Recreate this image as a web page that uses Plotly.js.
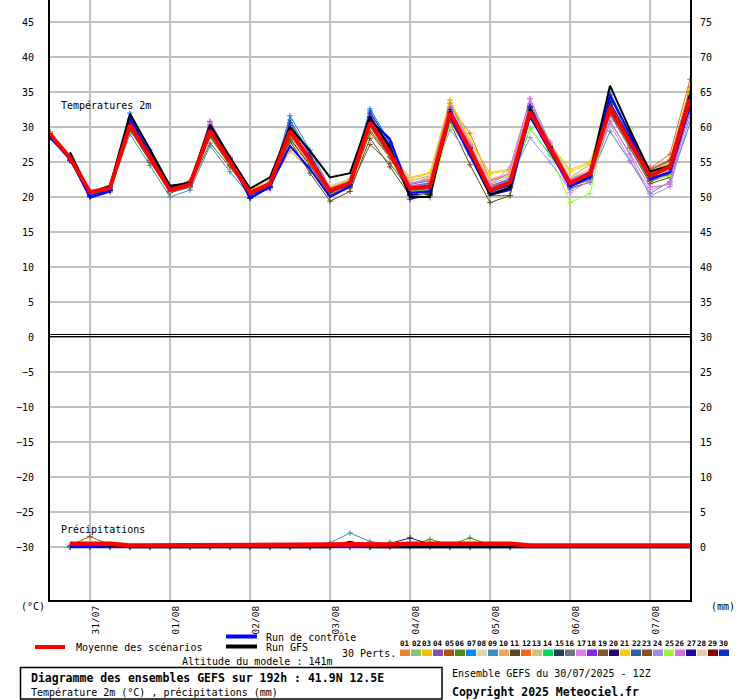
<!DOCTYPE html>
<html><head><meta charset="utf-8">
<script src="https://cdn.plot.ly/plotly-3.0.1.min.js"></script>
<style>html,body{margin:0;padding:0;background:#fff}#chart{width:740px;height:700px}</style>
</head><body><div id="chart"></div>
<script>
// ---- time axis (hours after 30/07/2025 12Z) ----
const hours = [0,6,12,18,24,30,36,42,48,54,60,66,72,78,84,90,96,102,108,114,120,126,132,138,144,150,156,162,168,174,180,186,192];
const dateTicks = [12,36,60,84,108,132,156,180];
const dateLabels = ['31/07','01/08','02/08','03/08','04/08','05/08','06/08','07/08'];
const tempTicks = [-30,-25,-20,-15,-10,-5,0,5,10,15,20,25,30,35,40,45];
const mmTicks = [0,5,10,15,20,25,30,35,40,45,50,55,60,65,70,75];

// ---- 2m temperature (°C) ----
const tMean = [29.0,25.6,20.7,21.3,30.3,25.6,21.0,21.8,29.5,25.0,20.6,21.9,29.4,25.3,20.9,22.0,30.6,26.2,21.2,21.5,32.0,26.8,21.0,22.1,32.2,27.0,22.0,23.3,32.7,27.8,23.0,24.3,34.0];
const tControl = [28.5,25.5,19.9,20.8,31.5,26.0,21.3,22.2,29.8,25.4,19.8,21.5,27.3,24.0,20.0,21.5,31.0,28.3,20.6,20.8,31.5,26.0,20.3,21.0,31.5,26.5,21.5,22.8,34.5,29.0,22.5,23.5,33.0];
const tGfs = [null,26.4,20.6,21.6,31.9,26.8,21.6,22.0,30.3,25.7,21.2,22.8,30.0,26.6,22.8,23.4,31.5,27.0,20.0,20.0,32.3,26.5,20.3,21.3,32.6,27.3,22.0,23.5,35.9,29.6,23.6,24.5,34.6];

const p01 = [29.1,25.7,20.8,21.2,30.6,25.8,21.1,21.9,29.3,24.8,20.5,21.7,26.6,23.9,20.6,21.8,30.2,26.0,21.4,21.7,32.4,27.0,21.3,22.4,32.0,26.8,21.8,23.0,32.3,27.5,22.8,24.0,34.5];
const p02 = [28.8,25.5,20.6,21.4,30.0,25.4,20.8,21.6,29.0,24.7,20.4,21.8,29.8,25.6,21.2,22.2,29.8,25.7,21.0,21.2,31.2,26.4,20.6,21.7,31.6,26.5,21.4,22.6,32.0,27.3,22.3,23.6,33.2];
const p03 = [29.2,25.8,20.9,21.5,30.8,26.0,21.3,22.3,29.6,25.1,20.9,22.0,29.0,25.2,21.3,22.5,30.3,26.3,22.8,23.5,33.8,27.8,23.5,24.0,32.6,27.6,23.9,25.0,33.0,28.2,23.4,25.0,35.2];
const p04 = [29.0,25.6,20.6,21.5,30.4,25.7,21.0,21.7,30.2,25.4,20.7,21.8,29.6,25.4,21.0,22.2,31.2,26.8,21.6,22.0,32.2,27.1,21.4,22.6,32.8,27.2,22.2,23.6,32.4,27.6,22.9,24.2,33.6];
const p05 = [29.3,25.9,20.9,20.7,30.1,25.5,20.9,21.5,29.2,24.9,20.6,22.1,28.8,25.0,20.7,21.9,30.8,26.5,21.1,21.4,31.8,26.9,21.2,22.3,32.4,27.3,22.1,23.2,33.2,28.4,24.0,25.3,35.6];
const p06 = [28.9,25.4,20.5,21.1,30.2,25.5,20.9,21.8,29.4,24.9,20.5,21.6,29.2,25.0,20.4,21.5,29.5,25.8,20.2,19.9,31.0,26.2,20.2,20.2,31.8,27.0,21.6,22.4,32.6,28.3,22.2,23.4,33.0];
const p07 = [28.6,25.3,20.3,21.0,32.0,26.8,21.4,22.0,29.9,25.5,20.3,21.6,31.6,26.7,21.3,22.6,32.6,27.8,21.8,22.3,32.8,27.2,21.6,22.6,33.3,27.8,22.6,23.8,35.0,29.0,23.2,24.6,34.4];
const p08 = [29.0,25.6,20.9,21.6,30.0,25.5,21.2,22.0,29.0,24.7,20.8,22.2,28.5,24.8,21.5,22.5,29.8,26.0,22.9,22.9,32.6,27.4,22.2,23.1,32.0,27.1,22.6,23.8,32.2,27.4,22.8,23.9,34.2];
const p09 = [28.4,25.2,20.4,20.9,29.0,24.5,20.0,21.0,27.3,23.6,20.2,21.4,28.2,24.6,20.6,21.6,30.0,26.0,21.5,21.8,31.4,26.4,20.8,21.8,31.8,26.6,21.6,22.6,29.4,25.1,20.5,22.2,30.5];
const p10 = [29.2,25.8,20.8,20.9,30.5,25.8,21.1,22.1,29.4,25.0,20.7,22.0,27.8,24.4,21.0,22.3,30.2,26.4,22.3,23.0,33.4,27.6,22.4,23.0,32.5,27.4,22.8,24.6,32.9,28.0,23.6,25.0,34.8];
const p11 = [28.7,25.3,20.4,21.0,29.6,25.0,20.6,21.4,28.6,24.5,20.3,21.5,28.0,23.4,19.4,20.8,28.4,24.3,20.2,20.4,30.6,24.6,19.2,20.2,31.5,26.5,21.3,22.1,31.8,27.0,21.9,22.8,32.2];
const p12 = [29.3,25.9,20.9,21.3,30.7,26.0,21.3,22.0,29.6,25.2,20.9,22.1,29.9,25.8,21.2,22.3,31.0,27.0,22.0,22.4,32.9,29.1,22.4,23.3,33.0,27.8,22.4,23.6,33.4,28.6,24.1,26.1,36.8];
const p13 = [29.0,25.6,20.7,21.6,30.1,25.6,21.2,22.2,29.1,24.9,21.0,22.3,28.9,25.2,21.4,22.6,30.4,26.1,22.0,22.5,32.4,27.2,21.8,22.9,31.9,26.8,22.4,23.7,31.8,27.2,22.6,23.4,33.4];
const p14 = [28.8,25.5,20.6,21.2,30.5,25.7,21.0,21.6,29.5,24.9,20.4,21.7,29.6,25.4,20.7,21.9,30.0,26.0,20.8,21.0,31.6,26.6,20.9,21.6,29.8,26.0,21.8,23.0,32.2,27.6,22.4,23.8,33.8];
const p15 = [28.7,25.4,20.2,21.0,30.0,25.4,20.8,21.7,29.7,25.2,20.3,21.5,29.3,25.5,20.6,21.7,31.0,26.8,20.4,20.7,32.4,27.1,21.0,21.9,32.6,27.2,21.9,23.0,33.0,28.0,22.8,23.5,33.2];
const p16 = [28.9,25.5,20.5,21.3,30.2,25.6,21.2,22.0,29.0,24.8,20.6,21.9,29.0,25.0,20.8,21.9,30.6,26.1,21.3,21.6,32.0,26.8,21.1,22.0,32.0,26.9,21.6,22.7,31.8,27.0,22.2,23.2,32.4];
const p17 = [29.1,25.7,20.8,21.5,30.4,25.8,21.0,21.9,30.4,25.4,20.9,21.0,29.6,25.4,20.9,21.9,31.2,26.6,21.8,22.8,32.8,27.4,21.6,24.3,34.0,27.0,20.6,22.4,30.5,25.2,21.0,22.0,32.6];
const p18 = [29.1,25.8,20.9,21.4,30.9,26.0,21.1,21.8,30.8,25.7,20.8,22.0,30.2,25.6,21.1,22.0,31.5,27.0,21.4,21.9,32.5,27.2,21.3,22.5,33.0,27.4,22.3,23.4,33.1,28.1,23.2,24.4,34.0];
const p19 = [28.8,25.4,20.5,21.1,29.8,25.2,20.8,21.5,27.7,24.3,20.4,21.6,28.4,24.5,20.2,21.3,27.5,24.8,20.9,21.2,31.0,26.0,20.6,21.4,31.3,26.7,21.6,22.8,32.0,27.4,22.4,23.2,33.0];
const p20 = [28.6,25.3,20.1,21.0,30.2,25.6,20.9,21.8,29.4,25.1,19.9,21.4,29.2,25.4,20.7,21.7,30.8,26.5,20.3,20.5,32.0,26.7,20.8,21.6,32.8,27.2,21.8,23.1,33.5,28.2,23.1,24.4,34.4];
const p21 = [29.2,25.8,20.9,21.6,30.6,25.9,21.3,22.4,29.6,25.2,21.0,22.2,29.0,25.4,21.4,22.5,30.4,26.6,22.6,23.4,33.9,28.2,23.3,23.8,32.7,27.5,23.6,24.8,32.9,28.0,23.5,24.8,35.4];
const p22 = [28.9,25.6,20.6,21.2,31.2,26.4,21.3,22.0,29.8,25.3,20.5,21.7,31.0,26.2,21.0,22.1,32.3,27.4,21.5,21.7,32.2,26.8,21.0,22.0,32.4,27.0,21.8,23.0,34.2,28.6,23.3,24.3,33.6];
const p23 = [29.0,25.6,20.7,21.0,29.7,25.2,20.7,21.5,28.8,24.6,20.5,21.6,28.3,24.6,20.3,21.4,29.2,25.6,21.0,21.3,31.7,26.9,21.0,22.1,31.9,27.0,22.2,23.4,33.3,28.3,23.8,25.2,35.0];
const p24 = [29.0,25.7,20.8,21.5,30.2,25.6,21.0,21.7,29.6,25.2,20.7,21.8,29.5,25.5,21.2,22.1,30.4,26.0,21.5,21.8,29.6,26.0,21.4,22.4,28.5,25.0,21.0,22.2,31.0,26.0,20.1,21.5,31.5];
const p25 = [28.8,25.4,20.5,21.2,30.3,25.6,20.9,21.9,29.3,24.8,20.4,21.8,29.1,25.0,20.5,21.9,30.0,26.2,21.0,20.0,30.3,26.8,21.2,22.3,29.8,26.2,19.2,20.5,32.4,29.8,22.6,23.0,33.6];
const p26 = [29.1,25.7,20.8,21.4,30.5,25.9,21.1,21.9,30.6,25.6,20.8,21.6,29.8,25.6,21.2,22.2,31.8,27.2,21.9,22.6,33.4,27.5,21.8,23.6,34.1,27.8,22.6,23.6,30.8,26.2,21.4,21.8,32.8];
const p27 = [28.5,25.2,20.0,20.9,30.4,25.8,21.1,22.0,29.5,24.9,19.8,21.3,29.4,25.2,20.6,21.8,31.4,27.4,19.7,20.2,32.3,27.0,20.5,21.4,32.7,27.2,21.6,23.0,33.6,28.4,22.6,23.7,33.9];
const p28 = [29.1,25.6,20.9,21.6,30.0,25.4,21.0,22.0,29.2,24.9,21.1,22.3,29.1,25.3,21.6,22.6,30.0,26.0,22.5,22.7,32.4,27.0,22.6,23.4,32.2,27.0,22.8,24.0,32.5,27.8,23.0,23.8,33.8];
const p29 = [29.0,25.7,20.7,21.3,30.6,25.8,21.2,22.0,29.5,25.1,20.8,22.0,29.6,25.6,21.1,22.1,30.6,26.4,21.2,21.5,32.1,26.9,21.1,22.2,32.3,27.1,22.1,23.3,32.8,27.9,23.1,24.3,34.2];
const p30 = [28.6,25.3,20.2,21.0,31.0,26.2,21.3,22.1,29.6,25.3,20.2,21.5,30.6,26.0,20.8,21.8,32.0,27.8,20.6,20.9,32.5,27.0,20.8,21.7,32.9,27.2,21.4,22.8,34.6,28.9,23.2,24.1,33.4];

const pertTemps = [p01,p02,p03,p04,p05,p06,p07,p08,p09,p10,p11,p12,p13,p14,p15,p16,p17,p18,p19,p20,p21,p22,p23,p24,p25,p26,p27,p28,p29,p30];
const pertNames = ['01','02','03','04','05','06','07','08','09','10','11','12','13','14','15','16','17','18','19','20','21','22','23','24','25','26','27','28','29','30'];
const pertColors = ['#e8832f','#86c46e','#f0c300','#8b4ea8','#b0520c','#4d8a0e','#0a84ff','#e6d5b0','#3a8fbf','#e6a85a','#5e4a1c','#f5651c','#d4bf7c','#0ad85a','#234257','#6b7580','#e27cf3','#8a22f0','#7b5a2c','#2a0a70','#f2d200','#2a66a6','#8a5420','#a08cf0','#9ef53c','#d474d4','#1e0a9e','#e3ccaa','#8a0008','#0a32c8'];

// ---- precipitation (mm, 6h) ----
const rMean = [null,0.45,0.5,0.45,0.2,0.2,0.2,0.2,0.2,0.2,0.35,0.35,0.35,0.35,0.35,0.4,0.35,0.35,0.47,0.5,0.47,0.5,0.47,0.47,0.2,0.2,0.2,0.2,0.2,0.2,0.2,0.2,0.2];
const rControl = [null,0,0,0,0,0,0,0,0,0,0,0,0,0,0,0,0,0,0,0,0,0,0,0,0,0,0,0,0,0,0,0,0];
const rGfs = [null,0.3,0.4,0.2,0,0,0,0,0,0,0,0,0,0,0,0.7,0,0,0,0,0,0,0,0,0,0,0,0,0,0,0,0,0];
const rP05 = [null,0.2,1.5,0.3,0,0,0,0,0,0,0,0,0,0,0,0,0,0,0,0,0,0,0,0,null,null,null,null,null,null,null,null,null];
const rP09 = [null,0,0,0,0,0,0,0,0,0,0,0,0,0.1,0.6,2.0,0.8,0.3,0,0,0,0,0,0,null,null,null,null,null,null,null,null,null];
const rP06 = [null,0,0,0,0,0,0,0,0,0,0,0,0,0,0,0,0,0,0.2,1.1,0.3,1.3,0.3,0,null,null,null,null,null,null,null,null,null];
const rP20 = [null,0,0,0,0,0,0,0,0,0,0,0,0,0,0,0,0,0.5,1.3,0.4,0,0,0,0,null,null,null,null,null,null,null,null,null];
const rP14 = [null,0,0,0,0,0,0,0,0,0,0,0,0,0,0,0,0.2,0.7,0.5,0.2,0,0,0,0,null,null,null,null,null,null,null,null,null];

// ---- build ----
const FONT = 'DejaVu Sans Mono';
const traces = [];
pertTemps.forEach((vals, i) => {
  traces.push({x: hours, y: vals, type: 'scatter', mode: 'lines+markers', yaxis: 'y', hoverinfo: 'skip',
    line: {color: pertColors[i], width: 1},
    marker: {symbol: 'cross-thin', size: 4, color: pertColors[i], line: {width: 1, color: pertColors[i]}}});
});
const precipPerts = [[rP05, 4], [rP09, 8], [rP06, 5], [rP20, 19], [rP14, 13]];
precipPerts.forEach(([vals, ci]) => {
  traces.push({x: hours, y: vals, type: 'scatter', mode: 'lines+markers', yaxis: 'y2', hoverinfo: 'skip',
    line: {color: pertColors[ci], width: 1},
    marker: {symbol: 'cross-thin', size: 4, color: pertColors[ci], line: {width: 1, color: pertColors[ci]}}});
});
traces.push({x: hours, y: tControl, type: 'scatter', mode: 'lines', yaxis: 'y', line: {color: '#0000ff', width: 2}, hoverinfo: 'skip'});
traces.push({x: hours, y: tGfs, type: 'scatter', mode: 'lines', yaxis: 'y', line: {color: '#000000', width: 2}, hoverinfo: 'skip'});
traces.push({x: hours, y: rControl, type: 'scatter', mode: 'lines', yaxis: 'y2', line: {color: '#0000ff', width: 2.5}, hoverinfo: 'skip'});
traces.push({x: hours, y: rGfs, type: 'scatter', mode: 'lines', yaxis: 'y2', line: {color: '#000000', width: 2.5}, hoverinfo: 'skip'});
traces.push({x: hours, y: tMean, type: 'scatter', mode: 'lines', yaxis: 'y', line: {color: '#ff0000', width: 4}, hoverinfo: 'skip'});
traces.push({x: hours, y: rMean, type: 'scatter', mode: 'lines', yaxis: 'y2', line: {color: '#ff0000', width: 4.5}, hoverinfo: 'skip'});

// pixel -> paper helpers (plot area 50..690 x, 0..600 y)
const px = X => (X - 50) / 640;
const py = Y => (600 - Y) / 600;

const ann = (text, X, Y, opts = {}) => Object.assign({
  text, x: px(X), y: py(Y), xref: 'paper', yref: 'paper', showarrow: false,
  xanchor: 'left', yanchor: 'middle', font: {family: FONT, size: 10, color: 'black'}
}, opts);

const annotations = [
  ann('Températures 2m', 59, 105),
  ann('Précipitations', 59, 529),
  ann('(°C)', 19, 606),
  ann('(mm)', 709, 606, {font: {family: FONT, size: 10, color: 'rgb(0,0,0)'}}),
  ann('Moyenne des scénarios', 74, 647),
  ann('Run de contrôle', 264, 637),
  ann('Run GFS', 264, 647),
  ann('Altitude du modele : 141m', 180, 661),
  ann('30 Perts.', 340, 653),
  ann('<b>Diagramme des ensembles GEFS sur 192h : 41.9N 12.5E</b>', 29, 678, {font: {family: FONT, size: 11.5, color: 'black'}}),
  ann('Température 2m (°C) , précipitations (mm)', 29, 692),
  ann('Ensemble GEFS du 30/07/2025 - 12Z', 450, 673),
  ann('<b>Copyright 2025 Meteociel.fr</b>', 450, 692, {font: {family: FONT, size: 11.5, color: 'black'}})
];
pertNames.forEach((n, i) => {
  annotations.push(ann('<b>' + n + '</b>', 405 + 11 * i, 643.5, {xanchor: 'center', font: {family: FONT, size: 7.5, color: 'black'}}));
});

const line = (X0, X1, Y, color, w) => ({type: 'line', xref: 'paper', yref: 'paper', x0: px(X0), x1: px(X1), y0: py(Y), y1: py(Y), line: {color, width: w}, layer: 'above'});
const shapes = [
  line(50, 690, 334.5, '#000', 1.2),
  line(50, 690, 336.6, '#000', 1.2),
  line(35, 65, 647, '#ff0000', 4),
  line(226, 257, 636.5, '#0000ff', 4),
  line(226, 257, 646.5, '#000000', 4),
  {type: 'rect', xref: 'paper', yref: 'paper', x0: px(20.5), x1: px(442), y0: py(699), y1: py(667.5), line: {color: '#000', width: 1.5}}
];
pertColors.forEach((c, i) => {
  shapes.push({type: 'rect', xref: 'paper', yref: 'paper', x0: px(400 + 11 * i), x1: px(410 + 11 * i), y0: py(656), y1: py(649.5), fillcolor: c, line: {width: 0}});
});

const layout = {
  width: 740, height: 700,
  margin: {l: 50, r: 50, t: 0, b: 100, pad: 0},
  paper_bgcolor: '#fff', plot_bgcolor: '#fff',
  showlegend: false,
  font: {family: FONT, size: 10, color: '#000'},
  xaxis: {range: [0, 192], tickvals: dateTicks, ticktext: dateLabels, tickangle: -90,
    showgrid: true, gridcolor: '#c0c0c0', gridwidth: 2, zeroline: false,
    showline: true, linecolor: '#000', linewidth: 2, ticks: '', ticklabelshift: 6, ticklabelstandoff: 0,
    tickfont: {family: FONT, size: 9.5}},
  yaxis: {range: [-37.571, 48.143], tickvals: tempTicks, showgrid: true, gridcolor: '#c0c0c0', gridwidth: 2,
    zeroline: false, showline: true, linecolor: '#000', linewidth: 2, ticks: '', ticklabelstandoff: 12,
    tickfont: {family: FONT, size: 10}},
  yaxis2: {range: [-7.571, 78.143], tickvals: mmTicks, overlaying: 'y', side: 'right', showgrid: false,
    zeroline: false, showline: true, linecolor: '#000', linewidth: 2, ticks: '', ticklabelstandoff: 6,
    tickfont: {family: FONT, size: 10}},
  annotations, shapes
};

Plotly.newPlot('chart', traces, layout, {displayModeBar: false, staticPlot: true});
</script>
</body></html>
